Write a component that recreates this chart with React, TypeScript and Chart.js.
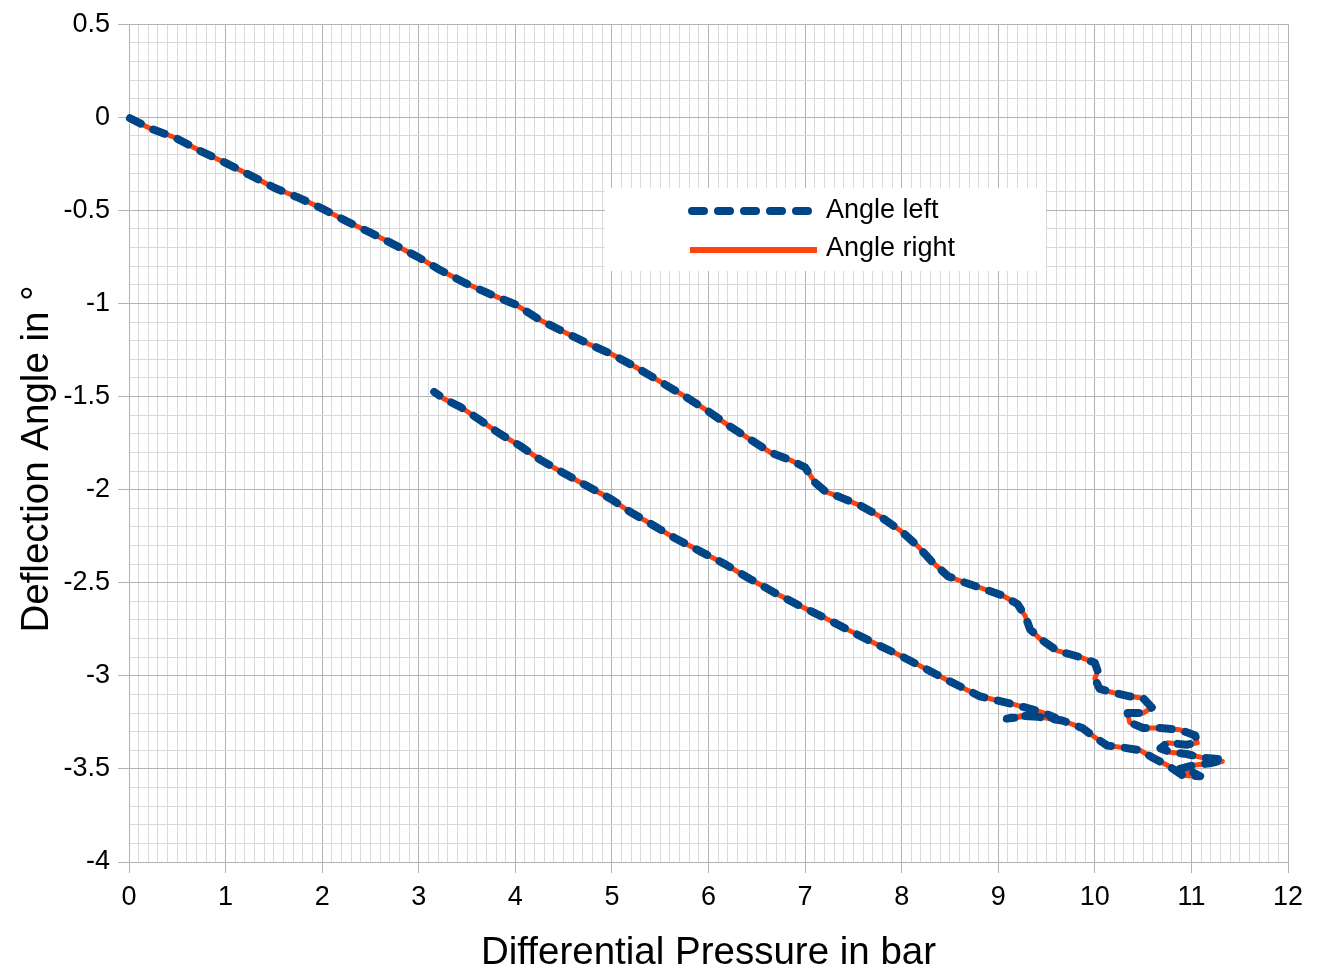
import React, { useEffect, useRef } from 'react';
import { Chart, registerables } from 'chart.js';

Chart.register(...registerables);

// ---- Data ----
const seriesLabels = ['Angle left', 'Angle right'];

const leftX = [
  0.01, 0.22, 0.48, 0.735, 1.0, 1.25, 1.51, 1.77, 2.0, 2.24,
  2.5, 2.75, 2.99, 3.22, 3.48, 3.74, 4.0, 4.26, 4.51, 4.77,
  4.99, 5.24, 5.5, 5.76, 6.0, 6.22, 6.43, 6.64, 6.84, 7.0,
  7.1, 7.21, 7.36, 7.57, 7.78, 8.0, 8.17, 8.31, 8.48, 8.66,
  8.86, 9.05, 9.2, 9.28, 9.33, 9.43, 9.61, 9.85, 10.0, 10.03,
  10.0, 10.05, 10.19, 10.36, 10.5, 10.59, 10.5, 10.34, 10.36, 10.5,
  10.67, 10.88, 11.04, 11.06, 10.95, 10.75, 10.68, 10.78, 10.95, 11.12,
  11.34, 11.19, 11.02, 10.88, 11.02, 11.09, 10.91, 10.75, 10.6, 10.47,
  10.29, 10.13, 10.0, 9.87, 9.66, 9.48, 9.33, 9.17, 9.09, 9.23,
  9.43, 9.59, 9.48, 9.35, 9.17, 8.97, 8.81, 8.5, 8.24, 7.98,
  7.72, 7.47, 7.21, 6.95, 6.69, 6.43, 6.17, 5.91, 5.65, 5.39,
  5.19, 4.99, 4.67, 4.46, 4.26, 4.05, 3.84, 3.63, 3.43, 3.27,
  3.16,
];
const leftY = [
  -0.005, -0.06, -0.11, -0.18, -0.245, -0.31, -0.38, -0.435, -0.49, -0.555,
  -0.62, -0.685, -0.75, -0.82, -0.89, -0.95, -1.005, -1.09, -1.155, -1.22,
  -1.27, -1.34, -1.42, -1.5, -1.58, -1.66, -1.73, -1.8, -1.84, -1.88,
  -1.96, -2.01, -2.04, -2.085, -2.145, -2.225, -2.305, -2.385, -2.465, -2.5,
  -2.535, -2.57, -2.615, -2.68, -2.75, -2.8, -2.865, -2.9, -2.93, -2.975,
  -3.015, -3.07, -3.09, -3.11, -3.12, -3.17, -3.2, -3.2, -3.25, -3.28,
  -3.28, -3.29, -3.32, -3.36, -3.37, -3.36, -3.39, -3.41, -3.42, -3.44,
  -3.45, -3.47, -3.48, -3.5, -3.52, -3.54, -3.535, -3.48, -3.44, -3.4,
  -3.385, -3.375, -3.33, -3.28, -3.24, -3.225, -3.215, -3.225, -3.23, -3.215,
  -3.22, -3.225, -3.2, -3.18, -3.155, -3.13, -3.11, -3.03, -2.96, -2.89,
  -2.825, -2.76, -2.69, -2.625, -2.555, -2.48, -2.4, -2.33, -2.26, -2.18,
  -2.12, -2.05, -1.96, -1.9, -1.84, -1.765, -1.7, -1.625, -1.555, -1.515,
  -1.475,
];

const rightX = [
  0.01, 0.22, 0.48, 0.735, 1.0, 1.25, 1.51, 1.77, 2.0, 2.24,
  2.5, 2.75, 2.99, 3.22, 3.48, 3.74, 4.0, 4.26, 4.51, 4.77,
  4.99, 5.24, 5.5, 5.76, 6.0, 6.22, 6.43, 6.64, 6.84, 7.0,
  7.1, 7.21, 7.36, 7.57, 7.78, 8.0, 8.17, 8.31, 8.48, 8.66,
  8.86, 9.05, 9.2, 9.28, 9.33, 9.43, 9.61, 9.85, 10.0, 10.03,
  10.0, 10.05, 10.19, 10.36, 10.5, 10.59, 10.5, 10.34, 10.36, 10.5,
  10.67, 10.88, 11.04, 11.06, 10.95, 10.75, 10.68, 10.78, 10.95, 11.12,
  11.32, 11.19, 11.02, 10.88, 11.02, 11.09, 10.91, 10.75, 10.6, 10.47,
  10.29, 10.13, 10.0, 9.87, 9.66, 9.48, 9.33, 9.17, 9.07, 9.23,
  9.43, 9.59, 9.48, 9.35, 9.17, 8.97, 8.81, 8.5, 8.24, 7.98,
  7.72, 7.47, 7.21, 6.95, 6.69, 6.43, 6.17, 5.91, 5.65, 5.39,
  5.19, 4.99, 4.67, 4.46, 4.26, 4.05, 3.84, 3.63, 3.43, 3.27,
  3.16,
];
const rightY = [
  -0.005, -0.06, -0.11, -0.18, -0.245, -0.31, -0.38, -0.435, -0.49, -0.555,
  -0.62, -0.685, -0.75, -0.82, -0.89, -0.95, -1.005, -1.09, -1.155, -1.22,
  -1.27, -1.34, -1.42, -1.5, -1.58, -1.66, -1.73, -1.8, -1.84, -1.88,
  -1.96, -2.01, -2.04, -2.085, -2.145, -2.225, -2.305, -2.385, -2.465, -2.5,
  -2.535, -2.57, -2.615, -2.68, -2.75, -2.8, -2.865, -2.9, -2.93, -2.975,
  -3.015, -3.07, -3.09, -3.11, -3.12, -3.17, -3.2, -3.2, -3.25, -3.28,
  -3.28, -3.29, -3.32, -3.36, -3.37, -3.36, -3.39, -3.41, -3.42, -3.44,
  -3.46, -3.47, -3.48, -3.5, -3.52, -3.54, -3.535, -3.48, -3.44, -3.4,
  -3.385, -3.375, -3.33, -3.28, -3.24, -3.225, -3.215, -3.225, -3.235, -3.215,
  -3.22, -3.225, -3.2, -3.18, -3.155, -3.13, -3.11, -3.03, -2.96, -2.89,
  -2.825, -2.76, -2.69, -2.625, -2.555, -2.48, -2.4, -2.33, -2.26, -2.18,
  -2.12, -2.05, -1.96, -1.9, -1.84, -1.765, -1.7, -1.625, -1.555, -1.515,
  -1.475,
];

const xMajorTicks = [0, 1, 2, 3, 4, 5, 6, 7, 8, 9, 10, 11, 12];
const yMajorTicks = [-4, -3.5, -3, -2.5, -2, -1.5, -1, -0.5, 0, 0.5];

const xTitle = 'Differential Pressure in bar';
const yTitle = 'Deflection Angle in °';

// ---- Styling ----
const FONT = "'Liberation Sans', Arial, sans-serif";
const MAJOR_GRID = '#b3b3b3';
const MINOR_GRID = '#d9d9d9';
const TICK_SIZE = 27;
const TITLE_SIZE = 38.5;

const findMajor = (list: number[], v: number) => list.find((t) => Math.abs(t - v) < 1e-6);

const legendPlugin = {
  id: 'insideLegend',
  afterDatasetsDraw(chart: any, _args: any, opts: any) {
    const ctx = chart.ctx as CanvasRenderingContext2D;
    ctx.save();
    ctx.fillStyle = '#ffffff';
    ctx.fillRect(opts.x, opts.y, opts.w, opts.h);
    chart.data.datasets.forEach((ds: any, i: number) => {
      const cy = opts.rows[i];
      ctx.beginPath();
      ctx.strokeStyle = ds.borderColor;
      ctx.lineWidth = opts.sampleWidths[i];
      ctx.setLineDash(ds.borderDash || []);
      ctx.lineCap = ds.borderCapStyle || 'butt';
      ctx.moveTo(opts.sampleStart[i], cy);
      ctx.lineTo(opts.sampleEnd[i], cy);
      ctx.stroke();
      ctx.setLineDash([]);
      ctx.fillStyle = '#000000';
      ctx.font = `27px ${FONT}`;
      ctx.textBaseline = 'middle';
      ctx.textAlign = 'left';
      ctx.fillText(ds.label, opts.textX, opts.textRows[i]);
    });
    ctx.restore();
  },
};

const yTitlePlugin = {
  id: 'yAxisTitle',
  afterDraw(chart: any, _args: any, opts: any) {
    const ctx = chart.ctx as CanvasRenderingContext2D;
    ctx.save();
    ctx.translate(opts.x, opts.y);
    ctx.rotate(-Math.PI / 2);
    ctx.fillStyle = '#000000';
    ctx.font = `${TITLE_SIZE}px ${FONT}`;
    ctx.textAlign = 'center';
    ctx.textBaseline = 'middle';
    ctx.fillText(opts.text, 0, 0);
    ctx.restore();
  },
};

export default function App() {
  const canvasRef = useRef<HTMLCanvasElement>(null);

  useEffect(() => {
    const leftData = leftX.map((x, i) => ({ x, y: leftY[i] }));
    const rightData = rightX.map((x, i) => ({ x, y: rightY[i] }));

    const chart = new Chart(canvasRef.current as HTMLCanvasElement, {
      type: 'scatter',
      data: {
        datasets: [
          {
            label: seriesLabels[0],
            data: leftData,
            showLine: true,
            borderColor: '#004586',
            backgroundColor: '#004586',
            borderWidth: 8,
            borderDash: [12, 14],
            borderCapStyle: 'round',
            borderJoinStyle: 'round',
            pointRadius: 0,
            pointHoverRadius: 0,
            tension: 0,
            clip: false,
          },
          {
            label: seriesLabels[1],
            data: rightData,
            showLine: true,
            borderColor: '#ff420e',
            backgroundColor: '#ff420e',
            borderWidth: 5,
            borderCapStyle: 'butt',
            borderJoinStyle: 'round',
            pointRadius: 0,
            pointHoverRadius: 0,
            tension: 0,
            clip: false,
          },
        ],
      } as any,
      options: {
        animation: false,
        responsive: true,
        maintainAspectRatio: false,
        layout: { padding: { top: 21, right: 31, bottom: 0, left: 0 } },
        plugins: {
          legend: { display: false },
          tooltip: { enabled: false },
          insideLegend: {
            x: 605,
            y: 188,
            w: 441,
            h: 83,
            rows: [211, 250],
            textRows: [211, 249],
            sampleStart: [692, 690],
            sampleEnd: [808, 817],
            sampleWidths: [8, 6],
            textX: 826,
          },
          yAxisTitle: { text: yTitle, x: 37, y: 459 },
        } as any,
        scales: {
          x: {
            type: 'linear',
            min: 0,
            max: 12,
            afterFit: (s: any) => {
              s.height = 108;
            },
            ticks: {
              stepSize: 0.1,
              autoSkip: false,
              maxRotation: 0,
              minRotation: 0,
              padding: 8,
              color: '#000000',
              font: { family: FONT, size: TICK_SIZE },
              callback: (v: any) => {
                const m = findMajor(xMajorTicks, Number(v));
                return m === undefined ? '' : String(m);
              },
            },
            grid: {
              color: (c: any) => (findMajor(xMajorTicks, c.tick.value) !== undefined ? MAJOR_GRID : MINOR_GRID),
              tickColor: (c: any) => (findMajor(xMajorTicks, c.tick.value) !== undefined ? MAJOR_GRID : 'rgba(0,0,0,0)'),
              tickLength: 11,
              lineWidth: 1,
            },
            border: { display: true, color: MAJOR_GRID },
            title: {
              display: true,
              text: xTitle,
              color: '#000000',
              font: { family: FONT, size: TITLE_SIZE },
              padding: { top: 0, bottom: -6 },
            },
          },
          y: {
            type: 'linear',
            min: -4,
            max: 0.5,
            afterFit: (s: any) => {
              s.width = 129;
            },
            ticks: {
              stepSize: 0.1,
              autoSkip: false,
              padding: 8,
              color: '#000000',
              font: { family: FONT, size: TICK_SIZE },
              callback: (v: any) => {
                const m = findMajor(yMajorTicks, Number(v));
                return m === undefined ? '' : String(m);
              },
            },
            grid: {
              color: (c: any) => (findMajor(yMajorTicks, c.tick.value) !== undefined ? MAJOR_GRID : MINOR_GRID),
              tickColor: (c: any) => (findMajor(yMajorTicks, c.tick.value) !== undefined ? MAJOR_GRID : 'rgba(0,0,0,0)'),
              tickLength: 11,
              lineWidth: 1,
            },
            border: { display: true, color: MAJOR_GRID },
            title: { display: false },
          },
        },
      } as any,
      plugins: [legendPlugin as any, yTitlePlugin as any],
    });
    return () => chart.destroy();
  }, []);

  return (
    <div style={{ position: 'fixed', left: 0, top: 0, width: 1319, height: 970, overflow: 'hidden', background: '#ffffff' }}>
      <canvas ref={canvasRef} />
    </div>
  );
}
